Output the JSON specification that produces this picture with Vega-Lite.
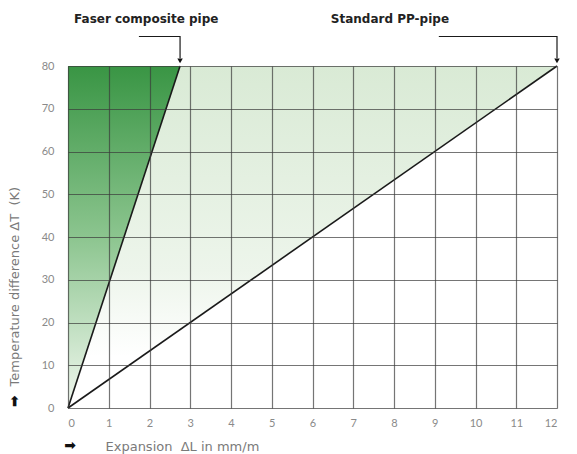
{
  "$schema": "https://vega.github.io/schema/vega-lite/v6.json",
  "width": 489,
  "height": 342,
  "autosize": {"type": "none"},
  "padding": {"left": 68, "top": 66, "right": 20, "bottom": 46},
  "background": "white",
  "config": {
    "view": {"stroke": null},
    "font": "Lato",
    "axis": {
      "grid": true,
      "gridColor": "#3a3a3a",
      "gridOpacity": 0.7,
      "gridWidth": 1.2,
      "domain": false,
      "ticks": false,
      "labelColor": "#8a8a8a",
      "labelFont": "Lato",
      "labelFontSize": 11,
      "titleColor": "#7a7a7a",
      "titleFont": "DejaVu Sans",
      "titleFontSize": 13,
      "titleFontWeight": "normal"
    }
  },
  "datasets": {
    "faser": [{"T": 0, "xa": 0, "xb": 0}, {"T": 80, "xa": 0, "xb": 2.75}],
    "between": [{"T": 0, "xa": 0, "xb": 0}, {"T": 80, "xa": 2.75, "xb": 12}],
    "curves": [
      {"pipe": "Faser", "dl": 0, "T": 0},
      {"pipe": "Faser", "dl": 2.75, "T": 80},
      {"pipe": "PP", "dl": 0, "T": 0},
      {"pipe": "PP", "dl": 12, "T": 80}
    ],
    "leaders": [
      {"pipe": "Faser", "i": 0, "dl": 1.74, "T": 86.9},
      {"pipe": "Faser", "i": 1, "dl": 2.75, "T": 86.9},
      {"pipe": "Faser", "i": 2, "dl": 2.75, "T": 81.8},
      {"pipe": "PP", "i": 0, "dl": 9.1, "T": 86.9},
      {"pipe": "PP", "i": 1, "dl": 12, "T": 86.9},
      {"pipe": "PP", "i": 2, "dl": 12, "T": 81.8}
    ],
    "heads": [{"dl": 2.75, "T": 81.2}, {"dl": 12, "T": 81.2}],
    "labels": [
      {"dl": 1.92, "T": 90.9, "text": "Faser composite pipe"},
      {"dl": 7.9, "T": 90.9, "text": "Standard PP-pipe"}
    ],
    "arrows": [
      {"dl": 0.05, "T": -9.0, "angle": 0},
      {"dl": -1.3, "T": 1.6, "angle": 270}
    ]
  },
  "encoding": {
    "x": {
      "type": "quantitative",
      "scale": {"domain": [0, 12], "nice": false, "zero": false},
      "axis": {
        "values": [0, 1, 2, 3, 4, 5, 6, 7, 8, 9, 10, 11, 12],
        "labelPadding": 9,
        "zindex": 1,
        "title": "Expansion\u00a0\u00a0ΔL in mm/m",
        "titleAnchor": "start",
        "titleAlign": "left",
        "titleBaseline": "middle",
        "titleX": 37,
        "titleY": 38
      }
    },
    "y": {
      "type": "quantitative",
      "scale": {"domain": [0, 80], "nice": false},
      "axis": {
        "values": [0, 10, 20, 30, 40, 50, 60, 70, 80],
        "labelPadding": 14,
        "zindex": 1,
        "title": "Temperature difference ΔT\u00a0\u00a0(K)",
        "titleAngle": 270,
        "titleAlign": "left",
        "titleBaseline": "middle",
        "titleX": -54,
        "titleY": 320
      }
    }
  },
  "layer": [
    {
      "data": {"name": "between"},
      "mark": {
        "type": "area",
        "orient": "horizontal",
        "fill": {
          "gradient": "linear", "x1": 0, "y1": 0, "x2": 0, "y2": 1,
          "stops": [
            {"offset": 0, "color": "#d9ead5"},
            {"offset": 0.6, "color": "#edf5eb"},
            {"offset": 0.85, "color": "#ffffff"},
            {"offset": 1, "color": "#ffffff"}
          ]
        }
      },
      "encoding": {
        "y": {"field": "T", "type": "quantitative"},
        "x": {"field": "xa", "type": "quantitative"},
        "x2": {"field": "xb"}
      }
    },
    {
      "data": {"name": "faser"},
      "mark": {
        "type": "area",
        "orient": "horizontal",
        "fill": {
          "gradient": "linear", "x1": 0, "y1": 0, "x2": 0, "y2": 1,
          "stops": [
            {"offset": 0, "color": "#399544"},
            {"offset": 0.5, "color": "#8cc58f"},
            {"offset": 1, "color": "#f2f8f0"}
          ]
        }
      },
      "encoding": {
        "y": {"field": "T", "type": "quantitative"},
        "x": {"field": "xa", "type": "quantitative"},
        "x2": {"field": "xb"}
      }
    },
    {
      "data": {"name": "curves"},
      "mark": {"type": "line", "color": "#1a1a1a", "strokeWidth": 1.6},
      "encoding": {
        "x": {"field": "dl", "type": "quantitative"},
        "y": {"field": "T", "type": "quantitative"},
        "detail": {"field": "pipe"}
      }
    },
    {
      "data": {"name": "leaders"},
      "mark": {"type": "line", "color": "#1a1a1a", "strokeWidth": 1.2, "clip": false},
      "encoding": {
        "x": {"field": "dl", "type": "quantitative"},
        "y": {"field": "T", "type": "quantitative"},
        "detail": {"field": "pipe"},
        "order": {"field": "i"}
      }
    },
    {
      "data": {"name": "heads"},
      "mark": {"type": "point", "shape": "triangle-down", "filled": true, "color": "#111", "size": 30, "opacity": 1},
      "encoding": {
        "x": {"field": "dl", "type": "quantitative"},
        "y": {"field": "T", "type": "quantitative"}
      }
    },
    {
      "data": {"name": "labels"},
      "mark": {"type": "text", "font": "DejaVu Sans", "fontSize": 12, "fontWeight": "bold", "color": "#222", "baseline": "middle"},
      "encoding": {
        "x": {"field": "dl", "type": "quantitative"},
        "y": {"field": "T", "type": "quantitative"},
        "text": {"field": "text"}
      }
    },
    {
      "data": {"name": "arrows"},
      "mark": {"type": "text", "font": "DejaVu Sans", "fontSize": 14, "fontWeight": "bold", "color": "#111", "baseline": "middle", "align": "center", "text": "➡"},
      "encoding": {
        "x": {"field": "dl", "type": "quantitative"},
        "y": {"field": "T", "type": "quantitative"},
        "angle": {"field": "angle", "type": "quantitative", "scale": null}
      }
    }
  ]
}
